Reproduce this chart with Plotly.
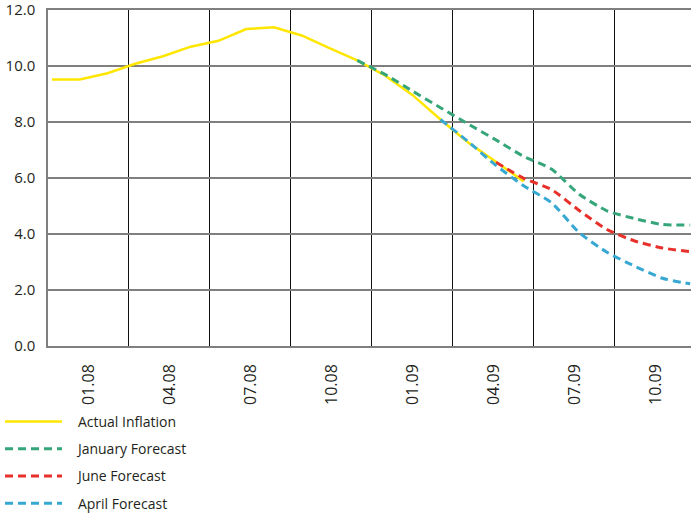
import plotly.graph_objects as go

# monthly points, index 0 = first observation
months = list(range(24))

actual = [9.52, 9.52, 9.74, 10.08, 10.35, 10.69, 10.90, 11.32, 11.38, 11.09,
          10.64, 10.20, 9.66, 8.96, 8.09, 7.27, 6.58, 5.88]
january = [None] * 11 + [10.20, 9.70, 9.10, 8.51, 7.93, 7.36, 6.77, 6.32,
                         5.42, 4.83, 4.55, 4.34, 4.32]
june = [None] * 16 + [6.56, 5.99, 5.59, 4.84, 4.16, 3.75, 3.50, 3.37]
april = [None] * 14 + [8.09, 7.30, 6.45, 5.72, 5.12, 4.05, 3.35, 2.85, 2.42, 2.22]

quarter_labels = ["01.08", "04.08", "07.08", "10.08", "01.09", "04.09", "07.09", "10.09"]

# axis geometry (in month units)
X0 = -0.144
QUARTER = 2.919
grid_x = [X0 + QUARTER * j for j in range(1, 8)]
label_x = [X0 + QUARTER * (j + 0.5) for j in range(8)]

FONT = "Open Sans"
TXT = "#231f20"
PAD = "\u00a0\u00a0\u00a0"

fig = go.Figure()
fig.add_trace(go.Scatter(x=months[:len(actual)], y=actual, name=PAD + "Actual Inflation",
                         mode="lines", legendgroup="a",
                         line=dict(color="#ffe600", width=2.5)))
fig.add_trace(go.Scatter(x=months, y=january, name=PAD + "January Forecast",
                         mode="lines", legendgroup="b",
                         line=dict(color="#35a57a", width=3, dash="8px,5px",
                                   shape="spline", smoothing=0.6)))
fig.add_trace(go.Scatter(x=months, y=june, name=PAD + "June Forecast",
                         mode="lines", legendgroup="c",
                         line=dict(color="#e8302a", width=3, dash="8px,5px",
                                   shape="spline", smoothing=0.6)))
fig.add_trace(go.Scatter(x=months, y=april, name=PAD + "April Forecast",
                         mode="lines", legendgroup="d",
                         line=dict(color="#37a8d2", width=3, dash="8px,5px",
                                   shape="spline", smoothing=0.6)))

fig.update_layout(
    width=691, height=515,
    margin=dict(l=48, r=0, t=10, b=169, autoexpand=False),
    plot_bgcolor="white", paper_bgcolor="white",
    font=dict(family=FONT, size=14, color=TXT),
    legend=dict(xref="container", yref="container", x=0, y=1 - 406 / 515,
                xanchor="left", yanchor="top", traceorder="grouped",
                tracegroupgap=6, itemwidth=57, font=dict(size=14)),
)
fig.update_xaxes(
    range=[X0, 23.03], tickmode="array", tickvals=label_x, ticktext=quarter_labels,
    tickangle=-90, showgrid=False, ticks="", ticklabelstandoff=10,
    tickfont=dict(size=16), zeroline=False,
    showline=True, mirror=True, linecolor="#7f7f7f", linewidth=1.5,
    minor=dict(tickmode="array", tickvals=grid_x, showgrid=True,
               gridcolor="#111111", gridwidth=1, ticks=""),
)
fig.update_yaxes(
    range=[0, 12], tickvals=[0, 2, 4, 6, 8, 10, 12], tickformat=".1f",
    showgrid=True, gridcolor="#7f7f7f", gridwidth=1.5, zeroline=False,
    showline=True, linecolor="#7f7f7f", linewidth=1.5, ticks="",
    ticklabelstandoff=8, tickfont=dict(size=15), ticklabeloverflow="allow",
)

fig.write_html("out.html", config={"displayModeBar": False},
               post_script="document.body.style.margin='0';")
